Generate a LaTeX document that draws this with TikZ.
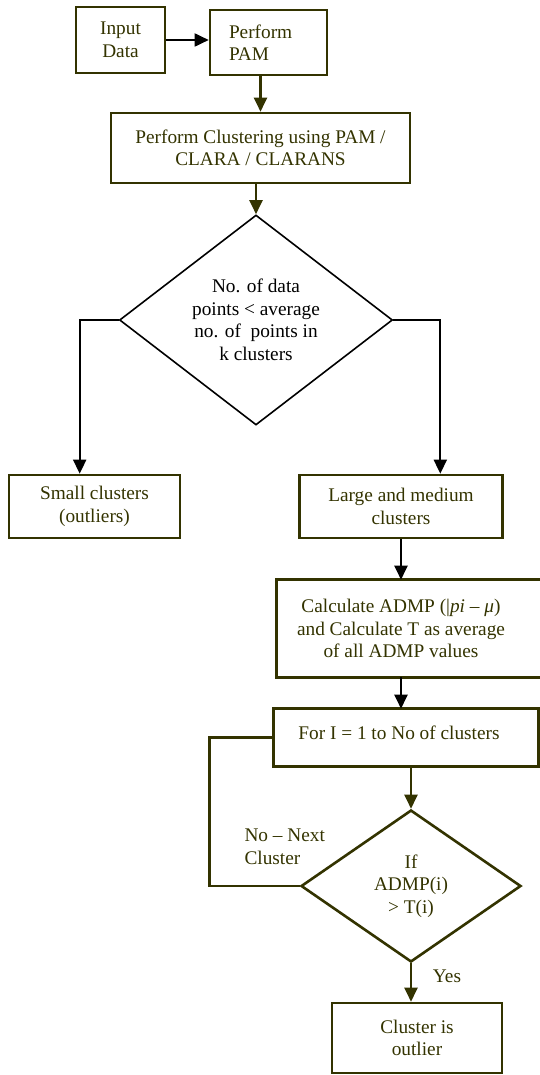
\documentclass[tikz,border=0pt]{standalone}
\usepackage{fontspec}
\setmainfont{Liberation Serif}
\usetikzlibrary{shapes.geometric,arrows.meta}
\definecolor{olivedark}{RGB}{51,51,0}
\newcommand{\boxcolor}{olivedark}
\newcommand{\boxline}{2.6pt}

\tikzset{
  txt/.style={font=\fontsize{19.3}{22.5}\selectfont, align=center, text=\boxcolor},
  blk/.style={txt, draw=\boxcolor, line width=\boxline, inner sep=0pt},
  dmd/.style={txt, diamond, inner sep=0pt},
  arr/.style={-{Triangle[length=14pt,width=13pt]}, line width=2.2pt}
}

\begin{document}
\begin{tikzpicture}[x=1pt,y=-1pt]
\useasboundingbox (0,0) rectangle (539,1075);
% boxes
\node[blk, minimum width=89, minimum height=66] (input) at (120.5,40) {Input\\Data};
\node[blk, minimum width=117, minimum height=65, align=left, text width=79pt, inner xsep=19pt] (pam) at (268.5,42.5) {Perform\\PAM};
\node[blk, minimum width=299, minimum height=70] (clus) at (260.5,148) {Perform Clustering using PAM /\\CLARA / CLARANS};
\node[dmd, draw=black, text=black, line width=1.6pt, minimum width=273, minimum height=210, aspect=1.3] (dec1) at (256,320) {No. of data\\points < average\\no. of\ \ points in\\k clusters};
\node[blk, minimum width=171, minimum height=63] (small) at (94.5,506.5) {Small clusters\\(outliers)};
\node[blk, minimum width=203, minimum height=63] (large) at (401,506.5) {Large and medium\\clusters};
\node[blk, draw=none, minimum width=246, minimum height=95] (calc) at (401,628.5) {Calculate ADMP (|\textit{pi} – \textit{μ})\\and Calculate T as average\\of all ADMP values};
\draw[\boxcolor, line width=\boxline] (calc.north west) rectangle ([xshift=20pt]calc.south east);
\node[blk, draw=none, minimum width=248, minimum height=55, text depth=9pt] (for) at (399,737.5) {For I = 1 to No of clusters};
\draw[\boxcolor, line width=\boxline] (for.north west) rectangle ([xshift=14pt]for.south east);
\node[dmd, draw=\boxcolor, line width=\boxline, minimum width=220, minimum height=152, aspect=1.45] (dec2) at (411,886) {If\\ADMP(i)\\> T(i)};
\node[blk, minimum width=170, minimum height=70] (out) at (417,1038) {Cluster is\\outlier};
% labels
\node[txt, align=left, anchor=west] (nonext) at (241,847) {No – Next\\Cluster};
\node[txt] (yes) at (447,976) {Yes};
% connectors
\draw[arr, black, line width=1.8pt] (input.east) -- (input.east -| pam.west);
\draw[arr, \boxcolor] (pam.south -| clus.north) -- (clus.north);
\draw[arr, \boxcolor] (clus.south -| dec1.north) -- (dec1.north);
\draw[arr, black, line width=1.8pt] (dec1.west) -- ++(-39,0) coordinate (lft) -- (lft |- small.north);
\draw[arr, black, line width=1.8pt] (dec1.east) -- ++(47,0) coordinate (rgt) -- (rgt |- large.north);
\draw[arr, black] (large.south) -- (large.south |- calc.north);
\draw[arr, black] (calc.south) -- (calc.south |- for.north);
\draw[arr, \boxcolor] (dec2.north |- for.south) -- (dec2.north);
\draw[\boxcolor, line width=\boxline] (dec2.west) -- ++(-90,0) |- (for.west);
\draw[arr, \boxcolor] (dec2.south) -- (dec2.south |- out.north);
\end{tikzpicture}
\end{document}
